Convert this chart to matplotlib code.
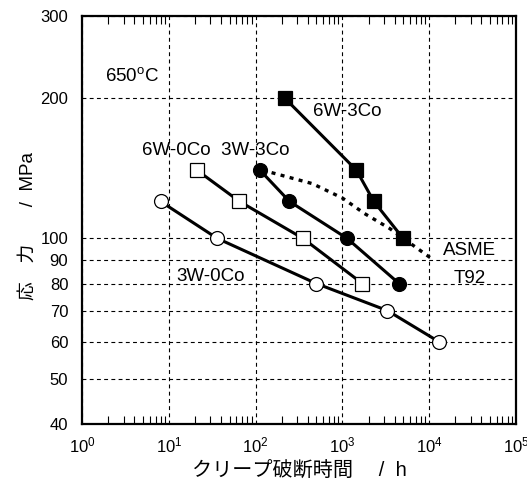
import numpy as np
import matplotlib
matplotlib.use("Agg")
import matplotlib.pyplot as plt
from matplotlib.ticker import LogLocator, FixedLocator, NullFormatter

plt.rcParams['font.family'] = ['Liberation Sans', 'Noto Sans CJK JP']
plt.rcParams['mathtext.fontset'] = 'custom'
plt.rcParams['mathtext.rm'] = 'Liberation Sans'
plt.rcParams['mathtext.it'] = 'Liberation Sans'

# rupture time (h) vs stress (MPa), 650 C
t_3w0co = [8, 36, 500, 3300, 13000]
s_3w0co = [120, 100, 80, 70, 60]

t_6w0co = [21, 65, 350, 1700]
s_6w0co = [140, 120, 100, 80]

t_3w3co = [112, 245, 1130, 4500]
s_3w3co = [140, 120, 100, 80]

t_6w3co = [215, 1450, 2300, 5000]
s_6w3co = [200, 140, 120, 100]

# ASME T92 curve
t_t92 = [120, 450, 1000, 1800, 3500, 10200]
s_t92 = [140, 131, 122, 113, 105, 91]

yticks = [40, 50, 60, 70, 80, 90, 100, 200, 300]

fig = plt.figure(figsize=(5.27, 4.93), dpi=100)
ax = fig.add_axes([0.156, 0.140, 0.823, 0.828])

lw = 2.2
ms = 10
ax.plot(t_t92, s_t92, color="black", lw=2.4, ls=(0, (1.2, 1.6)), zorder=2)
ax.plot(t_3w0co, s_3w0co, color="black", lw=lw, marker="o", ms=ms,
        mfc="white", mec="black", mew=0.9, zorder=3)
ax.plot(t_6w0co, s_6w0co, color="black", lw=lw, marker="s", ms=ms,
        mfc="white", mec="black", mew=0.9, zorder=3)
ax.plot(t_3w3co, s_3w3co, color="black", lw=lw, marker="o", ms=ms,
        mfc="black", mec="black", mew=0.9, zorder=3)
ax.plot(t_6w3co, s_6w3co, color="black", lw=lw, marker="s", ms=ms,
        mfc="black", mec="black", mew=0.9, zorder=3)

ax.set_xscale("log")
ax.set_yscale("log")
ax.set_xlim(1, 1e5)
ax.set_ylim(40, 300)

ax.yaxis.set_major_locator(FixedLocator(yticks))
ax.yaxis.set_minor_locator(FixedLocator([]))
ax.set_yticklabels([str(v) for v in yticks])
ax.yaxis.set_minor_formatter(NullFormatter())
ax.tick_params(axis='y', which='both', length=0, pad=10, labelsize=12)

ax.xaxis.set_major_locator(LogLocator(base=10, numticks=10))
ax.xaxis.set_minor_locator(LogLocator(base=10, subs=np.arange(2, 10), numticks=10))
ax.xaxis.set_minor_formatter(NullFormatter())
ax.tick_params(axis='x', which='major', length=0, pad=8, labelsize=12)
ax.tick_params(axis='x', which='minor', direction='in', length=6, width=0.8,
               top=True, bottom=True)

ax.grid(True, which='major', ls=(0, (3.5, 3)), color='black', lw=0.8)
for sp in ax.spines.values():
    sp.set_linewidth(1.6)

fs = 13.5
ax.text(3.8, 223, "650$^{\\mathrm{o}}$C", fontsize=fs, ha="center", va="center")
ax.text(1130, 187, "6W-3Co", fontsize=fs, ha="center", va="center")
ax.text(35, 154, "6W-0Co  3W-3Co", fontsize=fs, ha="center", va="center")
ax.text(30, 83, "3W-0Co", fontsize=fs, ha="center", va="center")
ax.text(29500, 94, "ASME", fontsize=fs, ha="center", va="center")
ax.text(29500, 82, "T92", fontsize=fs, ha="center", va="center")

ax.set_xlabel("クリープ破断時間　 /  h", fontsize=14.5, labelpad=5)
ax.set_ylabel("応　力　　/  MPa", fontsize=13.5, labelpad=3)
ax.yaxis.label.set_y(0.485)

fig.savefig("out.png", dpi=100)
